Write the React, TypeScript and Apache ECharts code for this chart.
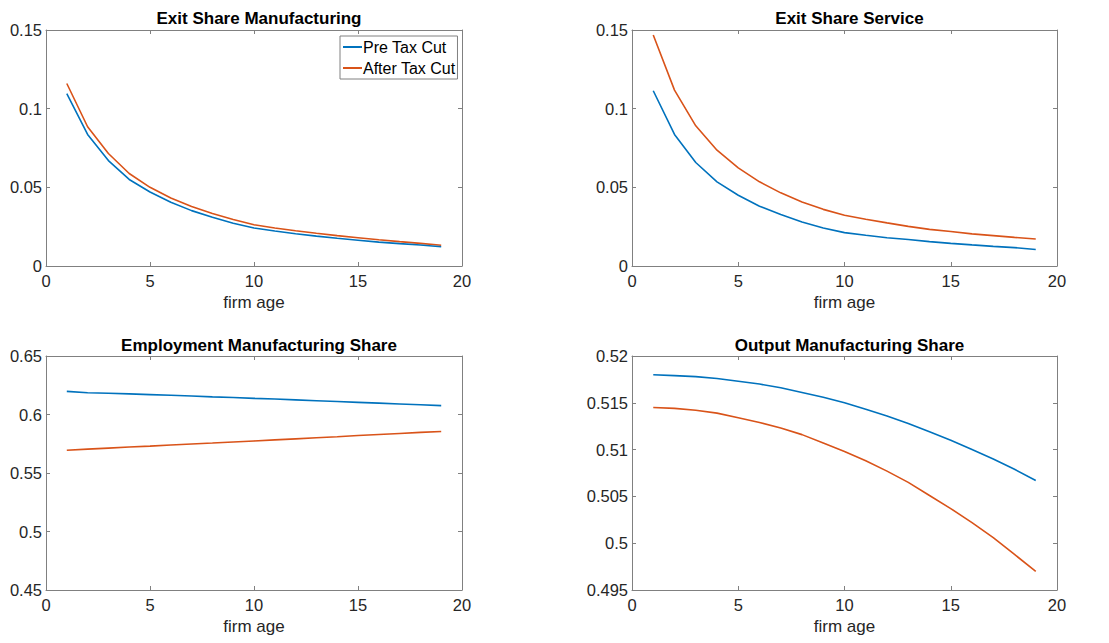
import React, { useEffect, useRef } from "react";
import * as echarts from "echarts";

const ages = [1, 2, 3, 4, 5, 6, 7, 8, 9, 10, 11, 12, 13, 14, 15, 16, 17, 18, 19];

const exitMfgPre = [0.1095, 0.0836, 0.067, 0.055, 0.047, 0.0405, 0.0352, 0.031, 0.0272, 0.0242, 0.0222, 0.0205, 0.019, 0.0176, 0.0164, 0.0152, 0.0142, 0.0133, 0.0122];
const exitMfgAfter = [0.116, 0.0885, 0.0715, 0.0588, 0.05, 0.0432, 0.0378, 0.0334, 0.0296, 0.0262, 0.0242, 0.0224, 0.0208, 0.0193, 0.018, 0.0167, 0.0155, 0.0144, 0.0132];

const exitSrvPre = [0.1114, 0.0836, 0.0658, 0.0535, 0.045, 0.038, 0.0327, 0.028, 0.0242, 0.0212, 0.0195, 0.018, 0.0168, 0.0155, 0.0144, 0.0134, 0.0125, 0.0117, 0.0105];
const exitSrvAfter = [0.1468, 0.1118, 0.0891, 0.0736, 0.0624, 0.0535, 0.0465, 0.0407, 0.036, 0.0323, 0.0297, 0.0274, 0.0252, 0.0233, 0.0219, 0.0204, 0.0193, 0.0182, 0.0172];

const empPre = [0.6198, 0.6186, 0.6181, 0.6176, 0.617, 0.6164, 0.6158, 0.6151, 0.6145, 0.6138, 0.6132, 0.6125, 0.6118, 0.6111, 0.6104, 0.6097, 0.609, 0.6083, 0.6076];
const empAfter = [0.5695, 0.5704, 0.5713, 0.5722, 0.573, 0.5739, 0.5748, 0.5756, 0.5765, 0.5774, 0.5783, 0.5792, 0.5801, 0.581, 0.582, 0.5829, 0.5838, 0.5847, 0.5855];

const outPre = [0.518, 0.5179, 0.5178, 0.5176, 0.5173, 0.517, 0.5166, 0.5161, 0.5156, 0.515, 0.5143, 0.5136, 0.5128, 0.5119, 0.511, 0.51, 0.509, 0.5079, 0.5067];
const outAfter = [0.5145, 0.5144, 0.5142, 0.5139, 0.5134, 0.5129, 0.5123, 0.5116, 0.5107, 0.5098, 0.5088, 0.5077, 0.5065, 0.5051, 0.5037, 0.5022, 0.5006, 0.4988, 0.497];

const titles = ["Exit Share Manufacturing", "Exit Share Service", "Employment Manufacturing Share", "Output Manufacturing Share"];
const seriesNames = ["Pre Tax Cut", "After Tax Cut"];
const xTicks = { min: 0, max: 20, interval: 5 };
const yRanges = [
  { min: 0, max: 0.15, interval: 0.05 },
  { min: 0, max: 0.15, interval: 0.05 },
  { min: 0.45, max: 0.65, interval: 0.05 },
  { min: 0.495, max: 0.52, interval: 0.005 },
];
const panelData = [
  [exitMfgPre, exitMfgAfter],
  [exitSrvPre, exitSrvAfter],
  [empPre, empAfter],
  [outPre, outAfter],
];

const BLUE = "#0072BD";
const ORANGE = "#D95319";
const AXIS = "#808080";
const TEXT = "#262626";
const FONT = "Liberation Sans, Arial, sans-serif";

const grids = [
  { left: 46, top: 30, width: 416, height: 236 },
  { left: 632, top: 30, width: 425, height: 236 },
  { left: 46, top: 356, width: 416, height: 234 },
  { left: 632, top: 356, width: 425, height: 234 },
];

const fmt = (v: number) => String(parseFloat(v.toFixed(4)));

export default function App() {
  const ref = useRef<HTMLDivElement>(null);
  useEffect(() => {
    if (!ref.current) return;
    const chart = echarts.init(ref.current, undefined, { renderer: "svg" });
    const xAxis: any[] = [];
    const yAxis: any[] = [];
    const series: any[] = [];
    const title: any[] = [];
    const line = { show: true, onZero: false, lineStyle: { color: AXIS, width: 1 } };
    const tick = { show: true, inside: true, length: 4, lineStyle: { color: AXIS } };
    grids.forEach((g, i) => {
      const r = yRanges[i];
      xAxis.push({
        type: "value",
        gridIndex: i,
        min: xTicks.min,
        max: xTicks.max,
        interval: xTicks.interval,
        position: "bottom",
        name: "firm age",
        nameLocation: "middle",
        nameGap: 28,
        nameTextStyle: { fontSize: 17, color: TEXT, fontFamily: FONT },
        axisLine: line,
        axisTick: tick,
        axisLabel: { fontSize: 16.5, color: TEXT, fontFamily: FONT, margin: 6 },
        splitLine: { show: false },
      });
      xAxis.push({
        type: "value",
        gridIndex: i,
        min: xTicks.min,
        max: xTicks.max,
        interval: xTicks.interval,
        position: "top",
        axisLine: line,
        axisTick: tick,
        axisLabel: { show: false },
        splitLine: { show: false },
      });
      yAxis.push({
        type: "value",
        gridIndex: i,
        min: r.min,
        max: r.max,
        interval: r.interval,
        position: "left",
        axisLine: line,
        axisTick: tick,
        axisLabel: { fontSize: 16.5, color: TEXT, fontFamily: FONT, margin: 4, formatter: fmt },
        splitLine: { show: false },
      });
      yAxis.push({
        type: "value",
        gridIndex: i,
        min: r.min,
        max: r.max,
        interval: r.interval,
        position: "right",
        axisLine: line,
        axisTick: tick,
        axisLabel: { show: false },
        splitLine: { show: false },
      });
      title.push({
        text: titles[i],
        left: g.left + g.width / 2,
        top: i < 2 ? 5 : 332,
        textAlign: "center",
        textStyle: { fontSize: 17, fontWeight: "bold", color: "#000", fontFamily: FONT },
      });
      panelData[i].forEach((vals, k) => {
        series.push({
          type: "line",
          name: seriesNames[k],
          xAxisIndex: i * 2,
          yAxisIndex: i * 2,
          data: ages.map((a, j) => [a, vals[j]]),
          showSymbol: false,
          symbol: "none",
          lineStyle: { width: 1.6, color: k === 0 ? BLUE : ORANGE },
          itemStyle: { color: k === 0 ? BLUE : ORANGE },
          z: k === 0 ? 3 : 2,
        });
      });
    });
    chart.setOption({
      animation: false,
      backgroundColor: "#fff",
      title,
      grid: grids.map((g) => ({ ...g, show: false, containLabel: false })),
      xAxis,
      yAxis,
      legend: {
        data: seriesNames,
        orient: "vertical",
        left: 340,
        top: 36,
        padding: [3, 2, 3, 3],
        itemGap: 5,
        itemWidth: 19,
        itemHeight: 2,
        icon: "rect",
        borderColor: AXIS,
        borderWidth: 1,
        backgroundColor: "#fff",
        textStyle: { fontSize: 16, color: "#000", fontFamily: FONT, padding: [0, 0, 0, -4] },
        selectedMode: false,
      },
      series,
    });
    return () => chart.dispose();
  }, []);
  return (
    <div
      ref={ref}
      style={{ position: "fixed", left: 0, top: 0, width: 1109, height: 643, background: "#fff" }}
    />
  );
}
